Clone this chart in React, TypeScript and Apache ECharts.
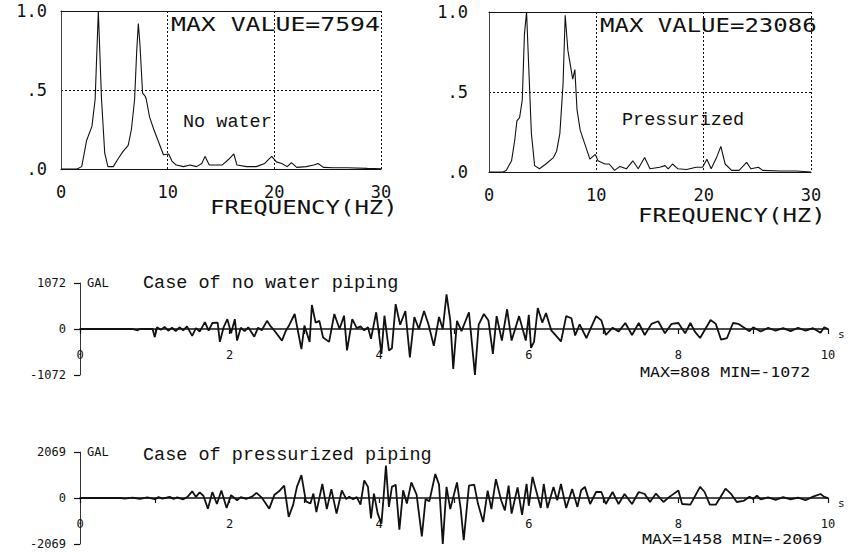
import React, { useEffect, useRef } from "react";
import * as echarts from "echarts";

// ---- Fourier spectra (normalised), frequency in Hz ----
const noWaterFreq = [0, 1.5, 1.94, 2.4, 2.9, 3.2, 3.5, 3.8, 4.1, 4.4, 4.9, 5.4, 5.8, 6.3, 6.6, 6.9, 7.1, 7.25, 7.4, 7.65, 7.9, 8.0, 8.3, 8.7, 9.1, 9.6, 10.1, 10.4, 10.8, 11.5, 12.1, 12.7, 13.2, 13.5, 13.9, 14.4, 15.1, 15.7, 16.2, 16.5, 17.4, 18.3, 19.1, 19.75, 20.2, 20.7, 21.2, 21.6, 22.1, 23.0, 23.7, 24.1, 24.6, 25.5, 26.8, 28.7, 30];
const noWaterAmp = [0, 0, 0.015, 0.18, 0.27, 0.44, 1.0, 0.44, 0.1, 0.015, 0.015, 0.07, 0.11, 0.15, 0.25, 0.44, 0.75, 0.92, 0.79, 0.48, 0.46, 0.44, 0.33, 0.25, 0.18, 0.09, 0.095, 0.05, 0.025, 0.015, 0.025, 0.015, 0.035, 0.08, 0.025, 0.025, 0.025, 0.06, 0.095, 0.025, 0.015, 0.015, 0.035, 0.08, 0.045, 0.035, 0.015, 0.04, 0.01, 0.015, 0.025, 0.035, 0.01, 0.008, 0.008, 0.004, 0.002];
const pressFreq = [0, 1.3, 1.6, 2.1, 2.4, 2.6, 2.85, 3.1, 3.3, 3.5, 3.7, 3.95, 4.25, 4.7, 5.3, 6.0, 6.3, 6.6, 6.9, 7.1, 7.35, 7.6, 7.8, 8.0, 8.2, 8.5, 8.9, 9.4, 9.9, 10.15, 10.8, 11.2, 11.7, 12.2, 12.8, 13.4, 13.9, 14.5, 15.0, 15.9, 16.4, 16.7, 17.1, 17.6, 18.4, 19.3, 19.9, 20.3, 20.7, 21.2, 21.6, 22.0, 22.6, 23.3, 24.0, 24.4, 25.1, 25.5, 27.1, 28.6, 30];
const pressAmp = [0, 0, 0.01, 0.07, 0.2, 0.32, 0.34, 0.45, 0.86, 1.0, 0.66, 0.24, 0.04, 0.02, 0.05, 0.09, 0.13, 0.24, 0.55, 0.98, 0.76, 0.66, 0.58, 0.64, 0.39, 0.26, 0.18, 0.08, 0.11, 0.07, 0.05, 0.05, 0.01, 0.035, 0.02, 0.07, 0.02, 0.09, 0.02, 0.03, 0.04, 0.02, 0.05, 0.02, 0.016, 0.03, 0.03, 0.08, 0.02, 0.09, 0.16, 0.05, 0.01, 0.01, 0.06, 0.02, 0.03, 0.01, 0.006, 0.006, 0];
const specYTickValues = [0, 0.5, 1];
const specYTickLabels = [".0", ".5", "1.0"];
const noWaterMaxValue = 7594;
const pressMaxValue = 23086;

// ---- Acceleration time histories (gal), time in s ----
const noWaterTime = [0, 0.7, 0.77, 0.8, 0.97, 1.0, 1.03, 1.08, 1.13, 1.18, 1.23, 1.28, 1.33, 1.38, 1.43, 1.5, 1.55, 1.6, 1.67, 1.72, 1.77, 1.84, 1.87, 1.92, 1.97, 2.02, 2.07, 2.1, 2.15, 2.2, 2.25, 2.33, 2.38, 2.43, 2.5, 2.55, 2.6, 2.7, 2.75, 2.8, 2.87, 2.96, 3.0, 3.07, 3.1, 3.15, 3.2, 3.25, 3.33, 3.4, 3.47, 3.53, 3.57, 3.64, 3.7, 3.75, 3.8, 3.85, 3.89, 3.96, 4.03, 4.07, 4.13, 4.17, 4.22, 4.28, 4.35, 4.41, 4.47, 4.53, 4.6, 4.66, 4.73, 4.8, 4.85, 4.9, 4.95, 4.99, 5.04, 5.1, 5.2, 5.28, 5.33, 5.4, 5.46, 5.52, 5.57, 5.64, 5.71, 5.77, 5.87, 5.96, 6.0, 6.03, 6.07, 6.12, 6.18, 6.23, 6.3, 6.36, 6.43, 6.5, 6.57, 6.62, 6.68, 6.77, 6.9, 6.97, 7.03, 7.12, 7.2, 7.29, 7.38, 7.47, 7.55, 7.64, 7.73, 7.82, 7.91, 8.0, 8.09, 8.16, 8.22, 8.29, 8.43, 8.5, 8.57, 8.65, 8.73, 8.8, 8.88, 8.95, 9.0, 9.1, 9.2, 9.3, 9.4, 9.5, 9.6, 9.7, 9.8, 9.9, 9.95, 10.0];
const noWaterAcc = [0, 0, -30, 0, 0, -190, 40, -20, 50, -40, 30, -50, 40, -30, 60, -160, 20, -60, 160, -40, 140, 150, -300, 40, 230, -100, 230, -270, 30, -50, 40, -180, 30, -30, 190, 60, -40, -270, -50, 100, 350, -470, 80, -300, 560, 150, 190, -200, -300, 350, 0, 310, -500, 230, 20, 60, -30, 40, -230, 390, -580, 310, -500, -450, 580, 100, 420, -660, 280, 0, 420, 100, -390, 280, 0, 808, 200, -930, 190, -50, 390, -1072, 100, 350, 200, -580, 300, -270, 460, -270, 300, -270, 330, -440, -300, 490, 150, 370, -30, -150, -290, 300, 250, -150, 110, -210, 300, 200, -140, 30, -60, 140, -140, 140, -140, 120, 180, -100, 120, 140, -100, 140, -60, -210, 210, 120, -250, -210, 140, 120, 30, -50, 40, -60, 30, -40, 20, -50, 30, -40, 20, -90, 40, 0];
const pressTime = [0, 0.55, 0.6, 0.7, 0.8, 0.9, 1.0, 1.05, 1.1, 1.2, 1.25, 1.3, 1.38, 1.44, 1.5, 1.55, 1.6, 1.65, 1.71, 1.77, 1.83, 1.89, 1.96, 2.02, 2.1, 2.15, 2.22, 2.3, 2.36, 2.43, 2.53, 2.6, 2.66, 2.73, 2.79, 2.85, 2.9, 2.96, 3.02, 3.08, 3.12, 3.16, 3.24, 3.3, 3.36, 3.43, 3.5, 3.56, 3.6, 3.65, 3.7, 3.75, 3.8, 3.85, 3.89, 3.93, 3.98, 4.03, 4.06, 4.09, 4.13, 4.17, 4.22, 4.27, 4.32, 4.37, 4.43, 4.5, 4.57, 4.62, 4.67, 4.75, 4.8, 4.85, 4.9, 4.95, 5.04, 5.09, 5.13, 5.2, 5.27, 5.32, 5.39, 5.45, 5.5, 5.56, 5.63, 5.68, 5.73, 5.77, 5.85, 5.91, 5.97, 6.0, 6.05, 6.1, 6.16, 6.2, 6.25, 6.33, 6.38, 6.43, 6.5, 6.58, 6.65, 6.7, 6.75, 6.82, 6.9, 6.97, 7.03, 7.12, 7.2, 7.28, 7.38, 7.47, 7.55, 7.62, 7.7, 7.8, 7.88, 8.0, 8.05, 8.16, 8.29, 8.35, 8.42, 8.5, 8.63, 8.7, 8.78, 8.87, 8.95, 9.0, 9.05, 9.1, 9.2, 9.3, 9.4, 9.5, 9.6, 9.7, 9.8, 9.9, 9.95, 10.0];
const pressAcc = [0, 0, -30, 20, -40, 30, -50, 40, -30, 50, -40, 30, -60, 60, 300, 50, 250, 100, -480, 270, -270, 340, -450, 130, -100, 40, -40, 60, 230, 20, -480, 150, 300, 560, -850, -300, 500, 1030, -150, -250, 200, -630, 630, -500, 400, -700, 340, -50, 60, -60, 40, -300, 790, 500, -920, 200, -700, -1150, 100, 1458, -400, 500, 600, -1420, 350, -250, 700, 150, -1730, -50, -150, 1080, 600, -2069, 500, -500, 700, -500, -1900, 560, 600, -250, -1080, 330, -500, 850, -100, -560, 560, -700, 480, -760, 640, -350, 950, 300, -450, 630, -450, 500, -100, 630, -450, 400, -400, 350, 500, -270, 270, 270, -270, 270, -270, 180, -270, 270, 180, -180, 200, -180, 50, 340, -270, -300, 500, 270, -300, -300, 420, 200, -180, -130, 60, -40, 100, -60, 30, -80, 40, -60, 20, -100, 60, 180, 50, 0];
const noWaterMax = 808;
const noWaterMin = -1072;
const pressMax = 1458;
const pressMin = -2069;

const PLOT = '"DejaVu Sans Mono", monospace';
const TYPE = '"Liberation Mono", monospace';
const INK = "#111";

function zip(a: number[], b: number[]) {
  return a.map((v, i) => [v, b[i]]);
}

function specAxes(gridIndex: number) {
  const x = [
    {
      type: "value", gridIndex, min: 0, max: 30, interval: 10,
      axisLine: { show: true, lineStyle: { color: INK, width: 1.2 } },
      axisTick: { show: false },
      axisLabel: { show: true, color: INK, fontFamily: PLOT, fontSize: 17, margin: 14, formatter: (v: number) => String(v) },
      splitLine: { show: true, lineStyle: { color: INK, type: [2, 2], width: 1 } },
    },
    {
      type: "value", gridIndex, position: "top", min: 0, max: 30,
      axisLine: { show: true, onZero: false, lineStyle: { color: INK, width: 1.2 } },
      axisTick: { show: false }, axisLabel: { show: false }, splitLine: { show: false },
    },
  ];
  const y = {
    type: "value", gridIndex, min: 0, max: 1, interval: 0.5,
    axisLine: { show: true, lineStyle: { color: "#444", width: 1 } },
    axisTick: { show: false },
    axisLabel: {
      show: true, color: INK, fontFamily: PLOT, fontSize: 17, margin: gridIndex === 0 ? 14 : 21,
      formatter: (v: number) => {
        const i = specYTickValues.findIndex((t) => Math.abs(t - v) < 1e-6);
        return i >= 0 ? specYTickLabels[i] : "";
      },
    },
    splitLine: { show: true, lineStyle: { color: INK, type: [2, 2], width: 1 } },
  };
  return { x, y };
}

function tsAxes(gridIndex: number, amp: number, halfHeight: number) {
  const x = {
    type: "value", gridIndex, min: 0, max: 10, interval: 1,
    offset: -halfHeight,
    name: "s", nameLocation: "end", nameGap: 10,
    nameTextStyle: { color: INK, fontFamily: PLOT, fontSize: 11, verticalAlign: "top" },
    axisLine: { show: true, onZero: false, lineStyle: { color: INK, width: 1.6 } },
    axisTick: { show: true, length: 5, lineStyle: { color: INK, width: 1.2 } },
    axisLabel: {
      show: true, color: INK, fontFamily: PLOT, fontSize: 12, margin: 20,
      formatter: (v: number) => (Math.round(v) % 2 === 0 ? String(v) : ""),
    },
    splitLine: { show: false },
  };
  const y = {
    type: "value", gridIndex, min: -amp, max: amp, interval: amp,
    name: "GAL", nameLocation: "end", nameGap: 0,
    nameTextStyle: { color: INK, fontFamily: PLOT, fontSize: 12, align: "left", verticalAlign: "middle", padding: [0, 0, 0, 7] },
    axisLine: { show: true, lineStyle: { color: "#333", width: 1 } },
    axisTick: { show: true, length: 6, lineStyle: { color: INK, width: 1.2 } },
    axisLabel: { show: true, color: INK, fontFamily: PLOT, fontSize: 12, margin: 14, formatter: (v: number) => String(v) },
    splitLine: { show: false },
  };
  return { x, y };
}

function txt(text: string, x: number, y: number, font: string, fontSize: number, scaleX = 1) {
  return {
    type: "text", x, y, scaleX,
    style: { text, x: 0, y: 0, fontFamily: font, fontSize, fill: INK, align: "left", verticalAlign: "middle", textAlign: "left", textVerticalAlign: "middle" },
  };
}

export default function App() {
  const ref = useRef<HTMLDivElement>(null);
  useEffect(() => {
    if (!ref.current) return;
    const chart = echarts.init(ref.current, undefined, { renderer: "svg" });
    const s0 = specAxes(0);
    const s1 = specAxes(1);
    const t0 = tsAxes(2, Math.abs(noWaterMin), 46);
    const t1 = tsAxes(3, Math.abs(pressMin), 46);
    chart.setOption({
      animation: false,
      backgroundColor: "#ffffff",
      grid: [
        { left: 61, top: 11, width: 320, height: 158, outerBoundsMode: "none" },
        { left: 489, top: 12, width: 322, height: 160, outerBoundsMode: "none" },
        { left: 80, top: 283, width: 748, height: 92, outerBoundsMode: "none" },
        { left: 80, top: 452, width: 748, height: 92, outerBoundsMode: "none" },
      ],
      xAxis: [...s0.x, ...s1.x, t0.x, t1.x],
      yAxis: [s0.y, s1.y, t0.y, t1.y],
      series: [
        { type: "line", xAxisIndex: 0, yAxisIndex: 0, data: zip(noWaterFreq, noWaterAmp), showSymbol: false, lineStyle: { color: INK, width: 1.1 } },
        { type: "line", xAxisIndex: 2, yAxisIndex: 1, data: zip(pressFreq, pressAmp), showSymbol: false, lineStyle: { color: INK, width: 1.1 } },
        { type: "line", xAxisIndex: 4, yAxisIndex: 2, data: zip(noWaterTime, noWaterAcc), showSymbol: false, lineStyle: { color: INK, width: 1.8 } },
        { type: "line", xAxisIndex: 5, yAxisIndex: 3, data: zip(pressTime, pressAcc), showSymbol: false, lineStyle: { color: INK, width: 1.8 } },
      ],
      graphic: [
        txt(`MAX VALUE=${noWaterMaxValue}`, 171, 24, PLOT, 20, 1.24),
        txt(`MAX VALUE=${pressMaxValue}`, 600, 25, PLOT, 20, 1.2),
        txt("FREQUENCY(HZ)", 210, 207, PLOT, 20, 1.2),
        txt("FREQUENCY(HZ)", 638, 215, PLOT, 20, 1.2),
        txt("No water", 183, 122, TYPE, 18.5),
        txt("Pressurized", 622, 120, TYPE, 18.5),
        txt("Case of no water piping", 143, 283, TYPE, 18.5),
        txt("Case of pressurized piping", 143, 455, TYPE, 18.5),
        txt(`MAX=${noWaterMax} MIN=${noWaterMin}`, 640, 372, PLOT, 14, 1.19),
        txt(`MAX=${pressMax} MIN=${pressMin}`, 642, 539, PLOT, 14, 1.19),
      ],
    });
    return () => chart.dispose();
  }, []);
  return <div ref={ref} style={{ position: "fixed", left: 0, top: 0, width: 853, height: 552, background: "#fff" }} />;
}
